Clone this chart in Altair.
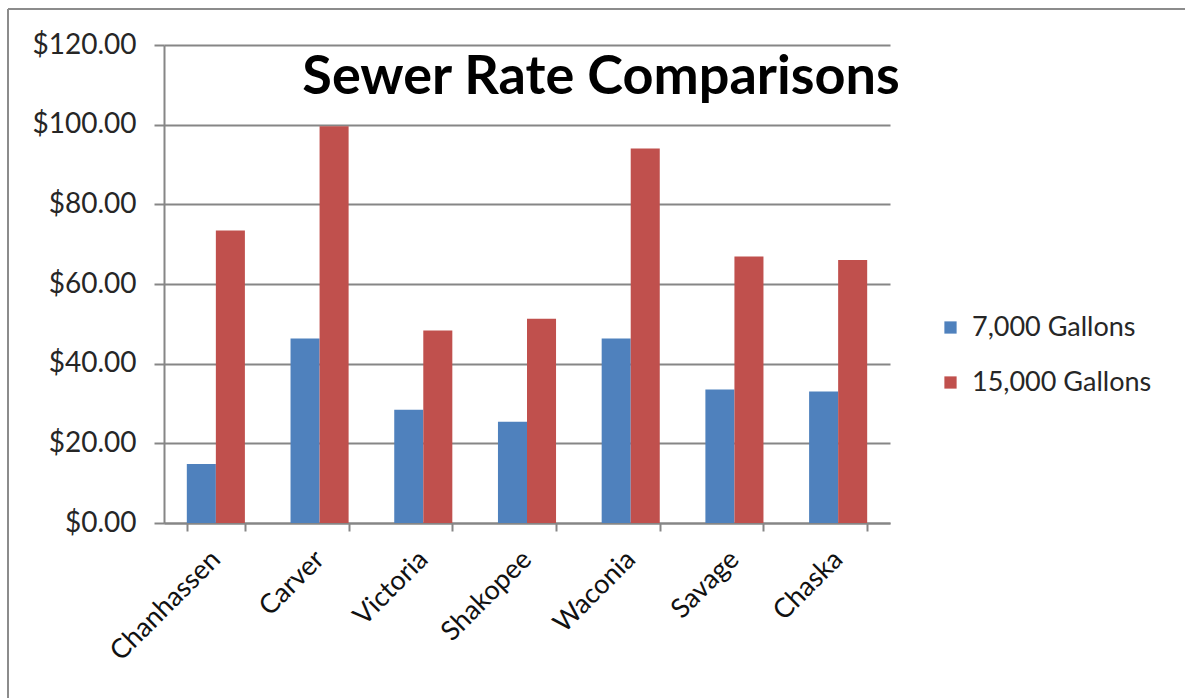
import altair as alt
import pandas as pd

cities = ["Chanhassen", "Carver", "Victoria", "Shakopee", "Waconia", "Savage", "Chaska"]
series = ["7,000 Gallons", "15,000 Gallons"]
rate_7000 = [14.8, 46.3, 28.4, 25.4, 46.3, 33.5, 33.0]
rate_15000 = [73.4, 99.6, 48.3, 51.3, 94.0, 66.9, 66.0]
colors = ["#4F81BD", "#C0504D"]

rows = []
for i, c in enumerate(cities):
    rows.append({"city": c, "series": series[0], "rate": rate_7000[i]})
    rows.append({"city": c, "series": series[1], "rate": rate_15000[i]})
df = pd.DataFrame(rows)

FONT = "Lato"
GRID = "#868686"
W, H = 726, 478

bars = alt.Chart(df).mark_bar(strokeWidth=0).encode(
    x=alt.X("city:N", sort=cities, title=None,
            scale=alt.Scale(paddingInner=0.44, paddingOuter=0.22),
            axis=alt.Axis(labelAngle=-45, labelFontSize=27, labelFont=FONT,
                          labelColor="#111111", labelPadding=24,
                          labelAlign="right", labelBaseline="middle",
                          tickBand="extent", tickSize=8, tickColor=GRID,
                          tickWidth=2, domainColor=GRID, domainWidth=2,
                          grid=False)),
    xOffset=alt.XOffset("series:N", sort=series),
    y=alt.Y("rate:Q", title=None,
            scale=alt.Scale(domain=[0, 120], nice=False),
            axis=alt.Axis(values=[0, 20, 40, 60, 80, 100, 120], format="$,.2f",
                          labelFontSize=28, labelFont=FONT, labelColor="#262626",
                          labelPadding=18, tickSize=10, tickColor=GRID,
                          tickWidth=2, domainColor=GRID, domainWidth=2,
                          grid=True, gridColor=GRID, gridWidth=2)),
    color=alt.Color("series:N", sort=series,
                    scale=alt.Scale(domain=series, range=colors),
                    legend=alt.Legend(title=None, orient="none",
                                      legendX=773, legendY=269,
                                      symbolType="square", symbolSize=150,
                                      symbolStrokeWidth=0,
                                      labelFont=FONT, labelFontSize=27,
                                      labelColor="#262626", labelLimit=400,
                                      rowPadding=27, symbolOffset=0,
                                      labelOffset=8)),
)

title = alt.Chart(pd.DataFrame({"t": ["Sewer Rate Comparisons"]})).mark_text(
    font=FONT, fontSize=54, fontWeight="bold", color="#000000",
    align="center", baseline="alphabetic",
).encode(text="t:N", x=alt.value(437), y=alt.value(49))

# frame along the top and left of the figure
frame_left = alt.Chart(pd.DataFrame({"a": [0]})).mark_rule(color="#8c8c8c", strokeWidth=2).encode(
    x=alt.value(-156), y=alt.value(-36), y2=alt.value(700))
frame_top = alt.Chart(pd.DataFrame({"a": [0]})).mark_rule(color="#8c8c8c", strokeWidth=2).encode(
    x=alt.value(-156), x2=alt.value(1030), y=alt.value(-36))

chart = alt.layer(bars, title, frame_left, frame_top).properties(
    width=W, height=H,
    autosize=alt.AutoSizeParams(type="none"),
    padding={"left": 164, "top": 45, "right": 295, "bottom": 175},
    background="white",
).configure_view(stroke=None)

chart.save("out.html", embed_options={"renderer": "svg", "actions": False})
